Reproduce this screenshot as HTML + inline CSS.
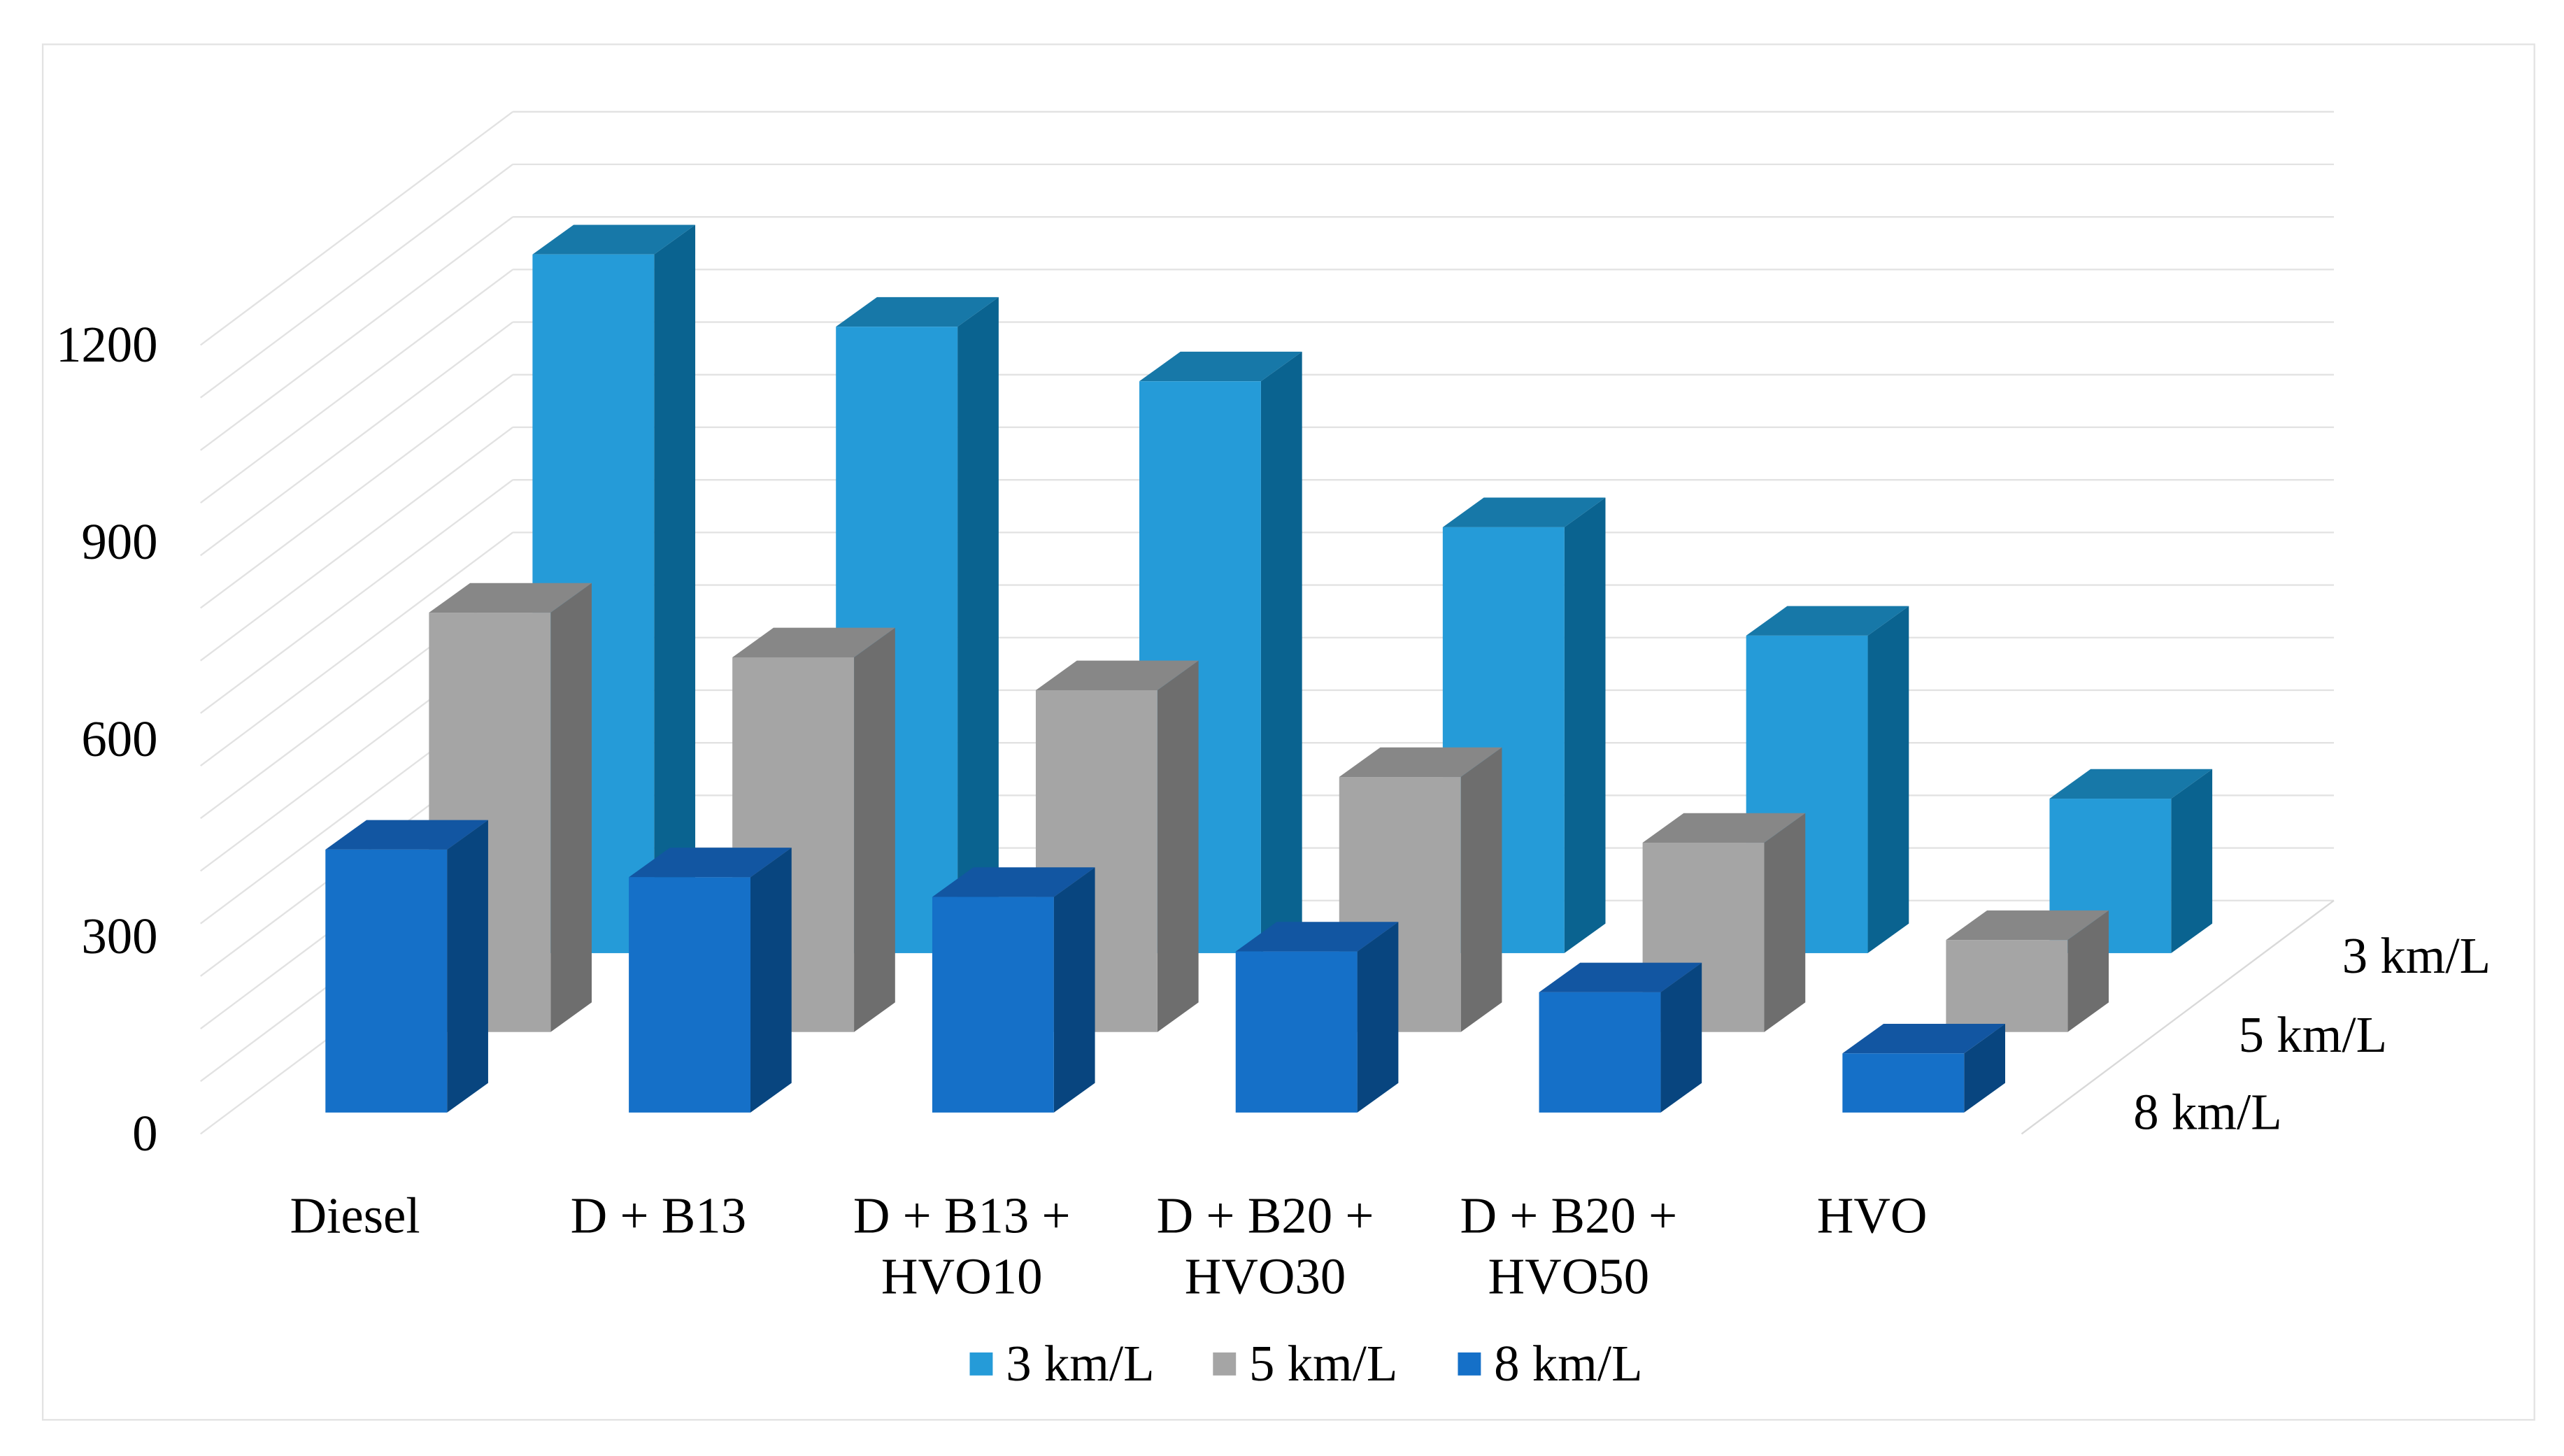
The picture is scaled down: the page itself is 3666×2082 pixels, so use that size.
<!DOCTYPE html>
<html><head><meta charset="utf-8"><style>
html,body{margin:0;padding:0;background:#fff;}
svg{display:block;}
text{font-family:"Liberation Serif","Times New Roman","DejaVu Serif",serif;fill:#000;}
</style></head><body>
<svg id="chart" width="3666" height="2082" viewBox="0 0 1560 886" preserveAspectRatio="none" xmlns="http://www.w3.org/2000/svg">
<rect x="26" y="27" width="1516" height="837" fill="#fff" stroke="#E3E3E3" stroke-width="1"/>
<g id="walls"></g>
<g id="bars"></g>
<g id="labels" font-family="Liberation Serif, Times New Roman, serif"></g>
</svg>
<script>
const categories = ["Diesel","D + B13","D + B13 +\nHVO10","D + B20 +\nHVO30","D + B20 +\nHVO50","HVO"];
const seriesNames = ["3 km/L","5 km/L","8 km/L"];
const values3 = [1063,953,870,648,483,235];
const values5 = [638,570,520,388,288,140];
const values8 = [400,358,328,245,183,90];
const yTicks = [0,300,600,900,1200];

const NS="http://www.w3.org/2000/svg";
const walls=document.getElementById('walls');
const bars=document.getElementById('bars');
const labels=document.getElementById('labels');
function mk(tag,attrs,parent){const e=document.createElementNS(NS,tag);for(const k in attrs)e.setAttribute(k,attrs[k]);parent.appendChild(e);return e;}
const FF='Liberation Serif, Times New Roman, DejaVu Serif, serif';

for(let k=0;k<=15;k++){
  const yb=548-32*k;
  const l=mk('line',{x1:312,y1:yb,x2:1420,y2:yb,stroke:'#E2E2E2','stroke-width':1},walls);
  
  
  const d=mk('line',{x1:312,y1:yb,x2:122,y2:yb+142,stroke:'#E2E2E2','stroke-width':1},walls);
  
  
}
const fl=mk('line',{x1:1420,y1:548,x2:1230,y2:690,stroke:'#D9D9D9','stroke-width':1},walls);



const rows=[
 {vals:values3,name:'3km',x0:324,base:580,front:'#259BD8',side:'#0A6390',top:'#1778A8'},
 {vals:values5,name:'5km',x0:261,base:628,front:'#A5A5A5',side:'#6E6E6E',top:'#878787'},
 {vals:values8,name:'8km',x0:198,base:677,front:'#1570C8',side:'#08457F',top:'#1256A2'}
];
const scale=0.4, step=184.6, bw=74, dx=25, dy=18;
function yOf(row,v){return row.base-v*scale;}
rows.forEach(row=>{
  row.vals.forEach((v,i)=>{
    const x=row.x0+i*step, t=yOf(row,v), b=row.base;
    const g=mk('g',{},bars);
    
    
    mk('polygon',{points:`${x+bw},${t} ${x+bw+dx},${t-dy} ${x+bw+dx},${b-dy} ${x+bw},${b}`,fill:row.side},g);
    mk('polygon',{points:`${x},${t} ${x+dx},${t-dy} ${x+bw+dx},${t-dy} ${x+bw},${t}`,fill:row.top},g);
    mk('rect',{x:x,y:t,width:bw,height:b-t,fill:row.front},g);
  });
});

yTicks.forEach((v,i)=>{
  const t=mk('text',{x:96,y:700-v*0.4,'text-anchor':'end','font-size':31,'font-family':FF},labels);
  t.textContent=v;
  
  
});
categories.forEach((c,i)=>{
  const cx=216+i*step;
  c.split('\n').forEach((ln,j)=>{
    const t=mk('text',{x:cx,y:740+j*37+10,'text-anchor':'middle','font-size':31,'font-family':FF},labels);
    t.textContent=ln;
    
    
  });
});
[[1425,582],[1362,630],[1298,677]].forEach((p,i)=>{
  const t=mk('text',{x:p[0],y:p[1]+10,'font-size':31,'font-family':FF},labels);
  t.textContent=seriesNames[i];
  
  
});
const legCols=['#259BD8','#A5A5A5','#1570C8'];
[590,738,887].forEach((x,i)=>{
  const g=mk('g',{},labels);
  
  
  mk('rect',{x:x,y:823,width:14,height:14,fill:legCols[i]},g);
  const t=mk('text',{x:x+22,y:840,'font-size':31,'font-family':FF},g);
  t.textContent=seriesNames[i];
});
</script>
</body></html>
